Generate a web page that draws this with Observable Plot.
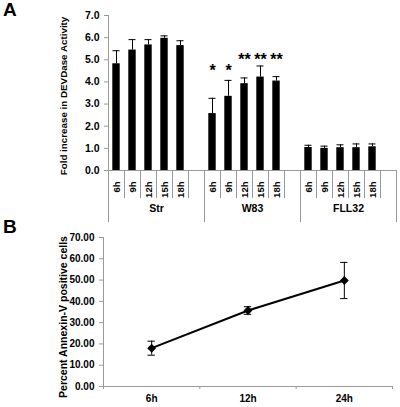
<!DOCTYPE html>
<html>
<head>
<meta charset="utf-8">
<script src="https://cdn.jsdelivr.net/npm/d3@7"></script>
<script src="https://cdn.jsdelivr.net/npm/@observablehq/plot@0.6"></script>
<style>
  html, body { margin: 0; padding: 0; background: #fff; }
  #wrap { position: relative; width: 400px; height: 407px; font-family: "Liberation Sans", Arial, sans-serif; }
  .panel { position: absolute; left: 0; }
  .letter { position: absolute; z-index: 5; font-weight: bold; font-size: 19px; line-height: 1; font-family: "Liberation Sans", Arial, sans-serif; }
</style>
</head>
<body>
<div id="wrap">
  <div id="pa" class="panel" style="top:0px;"></div>
  <div id="pb" class="panel" style="top:230px;"></div>
  <div class="letter" style="left:3px;top:0px;">A</div>
  <div class="letter" style="left:3px;top:217px;">B</div>
</div>
<script>
// ---- Panel A data ----
const groups = ["Str", "W83", "FLL32"];
const times = ["6h", "9h", "12h", "15h", "18h"];
const strMean = [4.82, 5.44, 5.67, 5.97, 5.64];
const strErr  = [0.59, 0.47, 0.24, 0.11, 0.22];
const w83Mean = [2.57, 3.35, 3.92, 4.22, 4.04];
const w83Err  = [0.69, 0.72, 0.26, 0.50, 0.20];
const fllMean = [1.04, 1.00, 1.03, 1.03, 1.07];
const fllErr  = [0.10, 0.10, 0.13, 0.17, 0.13];
const w83Stars = ["*", "*", "**", "**", "**"];
const yTicksA = [0, 1, 2, 3, 4, 5, 6, 7];
const titleA = "Fold increase in DEVDase Activity";

// ---- Panel B data ----
const timesB = ["6h", "12h", "24h"];
const annexin = [18.0, 35.7, 49.8];
const annexinErr = [3.3, 1.8, 8.5];
const yTicksB = [0, 10, 20, 30, 40, 50, 60, 70];
const titleB = "Percent Annexin-V positive cells";

// Build table for A: each group has 5 time slots + 1 empty slot
const slotsPerGroup = times.length + 1;
const means = [strMean, w83Mean, fllMean];
const errs = [strErr, w83Err, fllErr];
const rowsA = [];
groups.forEach((g, gi) => {
  times.forEach((t, ti) => {
    const slot = gi * slotsPerGroup + ti;
    rowsA.push({group: g, time: t, slot, mean: means[gi][ti], err: errs[gi][ti],
                star: g === "W83" ? w83Stars[ti] : ""});
  });
});
const nSlots = groups.length * slotsPerGroup;
const groupBounds = d3.range(0, nSlots + 1, slotsPerGroup);
const innerBounds = d3.range(0, nSlots + 1).filter(i => i % slotsPerGroup !== 0);
const labelCenters = rowsA.map(d => d.slot + 0.5);
const labelBySlot = new Map(rowsA.map(d => [d.slot + 0.5, d.time]));
const groupCenters = groups.map((g, gi) => gi * slotsPerGroup + slotsPerGroup / 2);
const groupByCenter = new Map(groups.map((g, gi) => [gi * slotsPerGroup + slotsPerGroup / 2, g]));
const starRows = rowsA.filter(d => d.star);
const starY = d => d.star === "**" ? 5.27 : 4.8;

const gray = "#999";
const font = "Liberation Sans, Arial, sans-serif";

const plotA = Plot.plot({
  width: 400, height: 228,
  marginLeft: 108, marginRight: 4, marginTop: 15, marginBottom: 58,
  style: {fontFamily: font, background: "white", color: "black"},
  x: {type: "linear", domain: [0, nSlots], axis: null},
  y: {domain: [0, 7], axis: null},
  marks: [
    Plot.ruleY([0], {stroke: gray}),
    Plot.ruleX([0], {stroke: gray}),
    Plot.axisY({ticks: yTicksA, tickSize: 4, tickPadding: 5, stroke: gray, fill: "black",
      tickFormat: d => d.toFixed(1), fontSize: 10.5, fontWeight: "bold", label: null}),
    Plot.axisX({ticks: innerBounds, tickSize: 28, stroke: gray, tickFormat: () => "", label: null}),
    Plot.axisX({ticks: groupBounds, tickSize: 52, stroke: gray, tickFormat: () => "", label: null}),
    Plot.axisX({ticks: labelCenters, tickSize: 0, tickPadding: 11, tickRotate: -90,
      tickFormat: d => labelBySlot.get(d), fontSize: 9.5, fontWeight: "bold", label: null}),
    Plot.axisX({ticks: groupCenters, tickSize: 0, tickPadding: 34,
      tickFormat: d => groupByCenter.get(d), fontSize: 10.5, fontWeight: "bold", label: null}),
    Plot.rectY(rowsA, {x1: "slot", x2: d => d.slot + 1, y: "mean", fill: "black", insetLeft: 4.3, insetRight: 4.3}),
    Plot.ruleX(rowsA, {x: d => d.slot + 0.5, y1: "mean", y2: d => d.mean + d.err, stroke: "black", strokeWidth: 1}),
    Plot.ruleY(rowsA, {x1: "slot", x2: d => d.slot + 1, y: d => d.mean + d.err, stroke: "black", strokeWidth: 1, insetLeft: 4.5, insetRight: 4.5}),
    Plot.text(starRows, {x: d => d.slot + 0.5, y: starY, text: "star", fontSize: 16, fontWeight: "bold", lineAnchor: "top"}),
    Plot.text([titleA], {frameAnchor: "left", textAnchor: "middle", rotate: -90, dx: -45, dy: 3, fontSize: 9.8, fontWeight: "bold"})
  ]
});
document.getElementById("pa").appendChild(plotA);

const rowsB = timesB.map((t, i) => ({t, i, v: annexin[i], e: annexinErr[i]}));
const bCenters = rowsB.map(d => d.i + 0.5);
const bLabel = new Map(rowsB.map(d => [d.i + 0.5, d.t]));

const plotB = Plot.plot({
  width: 400, height: 177,
  marginLeft: 103, marginRight: 8, marginTop: 7, marginBottom: 21,
  style: {fontFamily: font, background: "white", color: "black", overflow: "visible"},
  x: {type: "linear", domain: [0, timesB.length], axis: null},
  y: {domain: [0, 70], axis: null},
  marks: [
    Plot.ruleY([0], {stroke: gray}),
    Plot.ruleX([0], {stroke: gray}),
    Plot.axisY({ticks: yTicksB, tickSize: 4, tickPadding: 5, stroke: gray, fill: "black",
      tickFormat: d => d.toFixed(2), fontSize: 10, fontWeight: "bold", label: null}),
    Plot.axisX({ticks: d3.range(0, timesB.length + 1), tickSize: 3, stroke: gray, tickFormat: () => "", label: null}),
    Plot.axisX({ticks: bCenters, tickSize: 0, tickPadding: 8,
      tickFormat: d => bLabel.get(d), fontSize: 10, fontWeight: "bold", label: null}),
    Plot.ruleX(rowsB, {x: d => d.i + 0.5, y1: d => d.v - d.e, y2: d => d.v + d.e, stroke: "black", strokeWidth: 1}),
    Plot.ruleY(rowsB, {x1: "i", x2: d => d.i + 1, y: d => d.v + d.e, stroke: "black", insetLeft: 44.5, insetRight: 44.5}),
    Plot.ruleY(rowsB, {x1: "i", x2: d => d.i + 1, y: d => d.v - d.e, stroke: "black", insetLeft: 44.5, insetRight: 44.5}),
    Plot.line(rowsB, {x: d => d.i + 0.5, y: "v", stroke: "black", strokeWidth: 2}),
    Plot.dot(rowsB, {x: d => d.i + 0.5, y: "v", symbol: "diamond2", r: 4, fill: "black", stroke: "none"}),
    Plot.text([titleB], {frameAnchor: "left", textAnchor: "middle", rotate: -90, dx: -40, dy: 5, fontSize: 10.5, fontWeight: "bold"})
  ]
});
document.getElementById("pb").appendChild(plotB);
</script>
</body>
</html>
